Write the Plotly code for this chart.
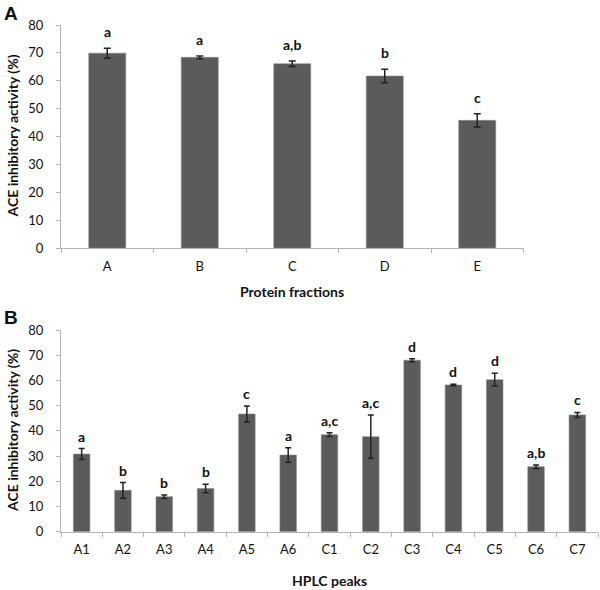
import plotly.graph_objects as go

# Panel A data
fractions = ["A", "B", "C", "D", "E"]
frac_values = [69.9, 68.4, 66.1, 61.7, 45.8]
frac_errors = [1.8, 0.5, 1.0, 2.4, 2.4]
frac_letters = ["a", "a", "a,b", "b", "c"]

# Panel B data
peaks = ["A1", "A2", "A3", "A4", "A5", "A6", "C1", "C2", "C3", "C4", "C5", "C6", "C7"]
peak_values = [30.8, 16.4, 13.9, 17.1, 46.7, 30.4, 38.5, 37.7, 68.0, 58.2, 60.3, 25.8, 46.3]
peak_errors = [2.2, 3.1, 0.7, 1.7, 3.2, 2.85, 0.7, 8.6, 0.6, 0.3, 2.5, 0.7, 1.0]
peak_letters = ["a", "b", "b", "b", "c", "a", "a,c", "a,c", "d", "d", "d", "a,b", "c"]

y_ticks = [0, 10, 20, 30, 40, 50, 60, 70, 80]

W, H = 600, 590
FONT = "Lato"
BAR = "#5b5b5b"
AX = "#b4b4b4"

fig = go.Figure()

fig.add_trace(go.Bar(
    x=fractions, y=frac_values, width=0.4,
    marker=dict(color=BAR, line=dict(color="#8a8a8a", width=0.6)),
    error_y=dict(type="data", array=frac_errors, color="#222222", thickness=1.5, width=3.5),
    xaxis="x", yaxis="y", showlegend=False,
))
fig.add_trace(go.Bar(
    x=peaks, y=peak_values, width=0.4,
    marker=dict(color=BAR, line=dict(color="#8a8a8a", width=0.6)),
    error_y=dict(type="data", array=peak_errors, color="#222222", thickness=1.5, width=3),
    xaxis="x2", yaxis="y2", showlegend=False,
))

def px_x(p):
    return p / W

def px_y(p):
    return 1 - p / H

axis_common = dict(
    showline=True, linecolor=AX, linewidth=1.2, ticks="outside", tickcolor=AX,
    ticklen=4, tickwidth=1.2, showgrid=False, zeroline=False, automargin=False,
    tickfont=dict(family=FONT, size=13, color="#111111"),
)

fig.update_layout(
    width=W, height=H, margin=dict(l=0, r=0, t=0, b=0, pad=0),
    plot_bgcolor="white", paper_bgcolor="white",
    bargap=0.6,
    xaxis=dict(domain=[px_x(61), px_x(523.5)], anchor="y", type="category",
               tickson="boundaries", ticklabelstandoff=6, **axis_common),
    yaxis=dict(domain=[px_y(248), px_y(25)], anchor="x", range=[0, 80],
               tickvals=y_ticks, ticklabelstandoff=10, **axis_common),
    xaxis2=dict(domain=[px_x(61), px_x(598)], anchor="y2", type="category",
                tickson="boundaries", ticklabelstandoff=6, **axis_common),
    yaxis2=dict(domain=[px_y(531.7), px_y(330)], anchor="x2", range=[0, 80],
                tickvals=y_ticks, ticklabelstandoff=10, **axis_common),
)

annotations = []
for cat, v, e, t in zip(fractions, frac_values, frac_errors, frac_letters):
    annotations.append(dict(x=cat, y=v + e, xref="x", yref="y", text=f"<b>{t}</b>",
                            showarrow=False, yanchor="bottom", yshift=6,
                            font=dict(family=FONT, size=14, color="#111111")))
for cat, v, e, t in zip(peaks, peak_values, peak_errors, peak_letters):
    annotations.append(dict(x=cat, y=v + e, xref="x2", yref="y2", text=f"<b>{t}</b>",
                            showarrow=False, yanchor="bottom", yshift=2,
                            font=dict(family=FONT, size=14, color="#111111")))

def title_ann(x, y, text, angle=0, size=14):
    return dict(x=px_x(x), y=px_y(y), xref="paper", yref="paper", text=f"<b>{text}</b>",
                xanchor="center", yanchor="middle", textangle=angle,
                showarrow=False, font=dict(family=FONT, size=size, color="#111111"))

annotations += [
    title_ann(292, 291, "Protein fractions"),
    title_ann(329.5, 580, "HPLC peaks"),
    title_ann(12, 136.5, "ACE inhibitory activity (%)", -90),
    title_ann(12, 431, "ACE inhibitory activity (%)", -90),
    dict(x=px_x(2), y=px_y(1), xref="paper", yref="paper", text="<b>A</b>", xanchor="left", yanchor="top",
         showarrow=False, font=dict(family="Liberation Sans", size=19, color="#111111")),
    dict(x=px_x(2), y=px_y(305), xref="paper", yref="paper", text="<b>B</b>", xanchor="left", yanchor="top",
         showarrow=False, font=dict(family="Liberation Sans", size=19, color="#111111")),
]
fig.update_layout(annotations=annotations)

fig.write_html("out.html", config={"displayModeBar": False},
               post_script="document.body.style.margin='0';document.body.style.padding='0';")
